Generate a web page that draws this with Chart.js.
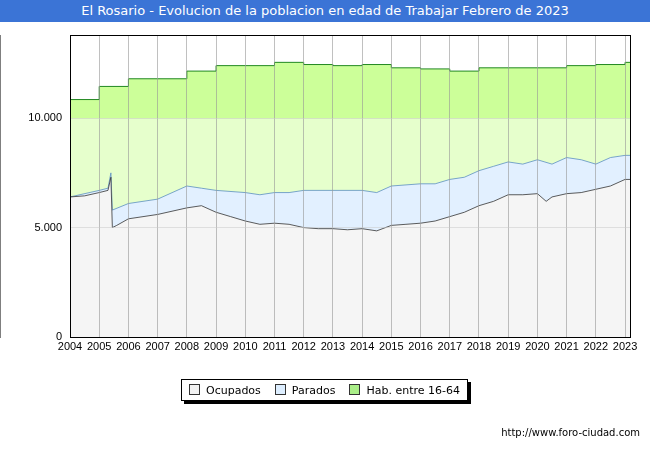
<!DOCTYPE html><html><head><meta charset="utf-8">
<script src="https://cdn.jsdelivr.net/npm/chart.js@4/dist/chart.umd.min.js"></script>
<style>body{margin:0;width:650px;height:450px;position:relative;font-family:"DejaVu Sans",sans-serif;background:#fff}
#t{position:absolute;left:0;top:0;width:650px;height:22px;background:#3b74d6;color:#fff;font-size:13px;text-align:center;line-height:22px}
#c{position:absolute;left:0;top:0}
#lg{position:absolute;left:181px;top:379px;width:285px;height:20px;border:1px solid #000;box-shadow:3px 3px 0 #000;background:#fff;font-size:11px;display:flex;align-items:center;justify-content:space-around}
#lg span i{display:inline-block;width:9px;height:9px;border:1px solid #333;margin-right:6px;vertical-align:-1px}
#u{position:absolute;right:10px;top:427px;font-size:10px}</style></head><body>
<canvas id="c" width="650" height="450"></canvas>
<div id="t">El Rosario - Evolucion de la poblacion en edad de Trabajar Febrero de 2023</div>
<div id="lg"><span><i style="background:#f2f2f2"></i>Ocupados</span><span><i style="background:#ddeeff"></i>Parados</span><span><i style="background:#aaee88"></i>Hab. entre 16-64</span></div>
<div id="u">http://www.foro-ciudad.com</div>
<script>
const years=[2004,2005,2006,2007,2008,2009,2010,2011,2012,2013,2014,2015,2016,2017,2018,2019,2020,2021,2022,2023,2023.17];
const hab=[10850,11450,11800,11800,12150,12400,12400,12550,12450,12400,12450,12300,12250,12150,12300,12300,12300,12400,12450,12550,12550];
const tOcu=[2004,2004.5,2005,2005.3,2005.4,2005.45,2005.6,2006,2007,2008,2008.5,2009,2009.5,2010,2010.5,2011,2011.5,2012,2012.5,2013,2013.5,2014,2014.5,2015,2015.5,2016,2016.5,2017,2017.5,2018,2018.5,2019,2019.5,2020,2020.3,2020.5,2021,2021.5,2022,2022.5,2023,2023.17];
const ocu=[6400,6450,6600,6700,7300,5000,5100,5400,5600,5900,6000,5700,5500,5300,5150,5200,5150,5000,4950,4950,4900,4950,4850,5100,5150,5200,5300,5500,5700,6000,6200,6500,6500,6550,6200,6400,6550,6600,6750,6900,7200,7200];
const tPar=[2004,2005,2005.3,2005.4,2005.45,2006,2007,2008,2008.5,2009,2010,2010.5,2011,2011.5,2012,2013,2014,2014.5,2015,2016,2016.5,2017,2017.5,2018,2018.5,2019,2019.5,2020,2020.5,2021,2021.5,2022,2022.5,2023,2023.17];
const par=[6400,6700,6800,7500,5800,6100,6300,6900,6800,6700,6600,6500,6600,6600,6700,6700,6700,6600,6900,7000,7000,7200,7300,7600,7800,8000,7900,8100,7900,8200,8100,7900,8200,8300,8300];
const band=10000;
const xy=(t,v)=>t.map((x,i)=>({x,y:v[i]}));
const frame={id:'frame',afterDraw(c){const a=c.chartArea,g=c.ctx;g.save();g.strokeStyle='#000';g.lineWidth=1;g.strokeRect(a.left+0.5,a.top+0.5,a.right-a.left,a.bottom-a.top);g.restore();}};
new Chart(document.getElementById('c'),{type:'line',plugins:[frame],data:{datasets:[
{data:xy(tOcu,ocu),borderColor:'#333',borderWidth:0.8,backgroundColor:'#f5f5f5',fill:'origin',pointRadius:0,tension:0},
{data:xy(tPar,par),borderColor:'#5c8fc0',borderWidth:0.8,backgroundColor:'#e2f0ff',fill:'origin',pointRadius:0},
{data:xy(years,years.map((y,i)=>Math.min(band,hab[i]))),borderWidth:0,backgroundColor:'#e6ffcc',fill:'origin',pointRadius:0,stepped:true},
{data:xy(years,hab),borderColor:'#228822',borderWidth:1,backgroundColor:'#ccff99',fill:'origin',pointRadius:0,stepped:true}
]},options:{animation:false,responsive:false,layout:{padding:{left:0,right:20,top:35,bottom:95}},
plugins:{legend:{display:false},tooltip:{enabled:false}},
scales:{x:{type:'linear',min:2004,max:2023.17,afterFit(s){s.height=18},afterBuildTicks(s){s.ticks=years.slice(0,20).map(v=>({value:v}))},
ticks:{color:'#000',font:{size:11},maxRotation:0,autoSkip:false,callback:v=>String(v)},grid:{color:'rgba(150,150,150,0.6)',drawTicks:false,z:1},border:{color:'#000'}},
y:{min:0,max:13800,afterFit(s){s.width=70},afterBuildTicks(s){s.ticks=[0,5000,10000].map(v=>({value:v}))},
ticks:{color:'#000',font:{size:11},padding:8,callback:v=>v.toLocaleString('de-DE')},grid:{color:'rgba(200,200,200,0.5)',drawTicks:false,z:1},border:{color:'#000'}}}}});
</script></body></html>
